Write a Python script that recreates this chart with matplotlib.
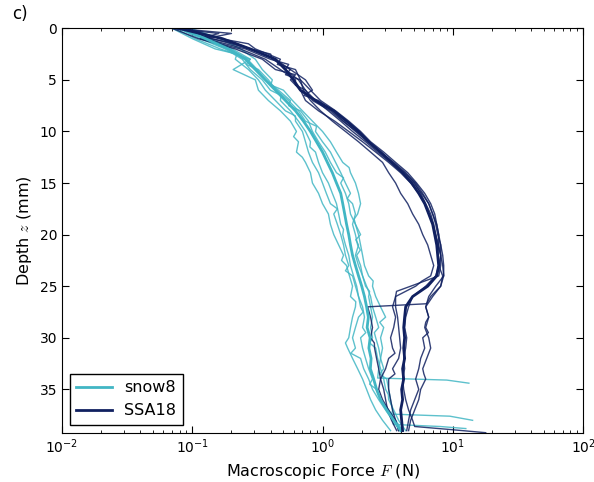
import matplotlib
matplotlib.use("Agg")
import matplotlib.pyplot as plt

# depth grid of the profiles (mm)
DEPTH = list(range(40))

# snow8: individual runs, force in N at each depth of DEPTH
SNOW8_RUNS = [
    [0.074, 0.105, 0.164, 0.279, 0.206, 0.305, 0.322, 0.384, 0.475, 0.567,
     0.631, 0.654, 0.631, 0.740, 0.808, 0.837, 0.932, 1.00, 1.11, 1.15,
     1.22, 1.33, 1.45, 1.53, 1.61, 1.70, 1.64, 1.79, 1.70, 1.64,
     1.59, 1.56, 1.70, 1.86, 2.03, 2.18, 2.34, 2.56, 2.89, 3.33],
    [0.0965, 0.164, 0.234, 0.305, 0.345, 0.412, 0.501, 0.588, 0.701, 0.837,
     1.00, 1.15, 1.28, 1.43, 1.64, 1.79, 1.89, 1.96, 1.86, 1.79,
     1.89, 1.96, 2.03, 2.10, 2.26, 2.42, 2.56, 2.79, 3.05, 2.95,
     2.79, 2.89, 2.79, 2.70],
    [0.088, 0.138, 0.203, 0.279, 0.322, 0.384, 0.443, 0.548, 0.654, 0.740,
     0.883, 1.00, 1.15, 1.26, 1.38, 1.50, 1.64, 1.70, 1.79, 1.70,
     1.79, 1.86, 1.83, 1.96, 2.03, 2.18, 2.34, 2.42, 2.56, 2.70,
     2.56, 2.70, 2.79, 2.95, 3.11, 3.22, 3.33, 3.45],
    [0.078, 0.115, 0.179, 0.242, 0.279, 0.345, 0.398, 0.475, 0.567, 0.654,
     0.740, 0.808, 0.883, 0.932, 1.00, 1.11, 1.19, 1.28, 1.33, 1.38,
     1.43, 1.50, 1.59, 1.64, 1.73, 1.83, 1.89, 1.96, 1.89, 1.79,
     1.70, 1.79, 1.96, 2.07, 2.26, 2.42, 2.70, 3.05, 3.45],
    [0.084, 0.133, 0.196, 0.265, 0.316, 0.364, 0.459, 0.567, 0.677, 0.780,
     0.837, 0.932, 1.05, 1.15, 1.28, 1.38, 1.50, 1.59, 1.64, 1.79,
     1.96, 1.89, 1.79, 1.89, 2.03, 2.14, 2.26, 2.34, 2.42, 2.34,
     2.42, 2.56, 2.65, 2.79, 2.95, 3.05, 3.22, 3.52, 3.84, 4.35],
    [0.070, 0.100, 0.150, 0.214, 0.270, 0.322, 0.364, 0.435, 0.519, 0.620,
     0.701, 0.740, 0.780, 0.837, 0.932, 1.00, 1.07, 1.15, 1.22, 1.30,
     1.38, 1.45, 1.50, 1.59, 1.70, 1.79, 1.89, 2.03, 2.10, 2.03,
     1.96, 2.03, 2.14, 2.26, 2.42, 2.60, 2.79, 3.22, 3.64, 4.12],
]
# extra readings between grid depths (wiggles) and the end of runs
# that hit something hard: run index -> (depths, forces)
SNOW8_EXTRA = {
    0: ([10.5, 12.5, 22.5, 26.5, 30.5], [0.60, 0.70, 1.40, 1.80, 1.50]),
    1: ([5.5, 13.5, 18.5, 24.5, 28.5, 33.9, 34.1, 34.4],
        [0.40, 1.60, 1.75, 2.45, 2.75, 2.65, 9.0, 13.3]),
    2: ([3.5, 9.5, 16.5, 21.5, 29.5, 33.5, 37.4, 37.6, 38.0],
        [0.26, 0.90, 1.55, 1.95, 2.50, 2.75, 3.4, 9.5, 14.2]),
    3: ([6.5, 11.5, 19.5, 27.5, 31.5, 38.4, 38.6, 38.8],
        [0.48, 0.80, 1.45, 2.05, 1.65, 3.5, 8.0, 12.6]),
    4: ([7.5, 14.5, 20.5, 25.5, 30.5, 35.5], [0.55, 1.45, 1.80, 2.30, 2.30, 3.20]),
    5: ([2.5, 8.5, 17.5, 23.5, 29.5, 34.5], [0.22, 0.62, 1.30, 1.50, 2.15, 2.30]),
}
SNOW8_MEAN = [0.081, 0.126, 0.189, 0.256, 0.305, 0.364, 0.435, 0.519, 0.620, 0.714,
              0.808, 0.899, 1.00, 1.09, 1.19, 1.28, 1.38, 1.43, 1.48, 1.53,
              1.59, 1.64, 1.70, 1.79, 1.89, 2.00, 2.10, 2.18, 2.25, 2.20,
              2.32, 2.27, 2.36, 2.33, 2.47, 2.60, 2.79, 3.11, 3.52, 3.98]

# SSA18
SSA18_RUNS = [
    [0.074, 0.126, 0.256, 0.398, 0.519, 0.654, 0.740, 0.837, 1.15, 1.43,
     1.83, 2.26, 2.79, 3.52, 4.35, 5.10, 5.67, 6.20, 6.77, 7.14,
     7.40, 7.80, 8.08, 8.37, 8.52, 8.08, 6.77, 2.22, 2.34, 2.42,
     2.34, 2.51, 2.60, 2.70, 2.79, 2.95, 3.05, 3.16, 3.39, 3.71],
    [0.081, 0.138, 0.279, 0.435, 0.567, 0.677, 0.714, 0.808, 0.965, 1.19,
     1.50, 1.89, 2.34, 2.89, 3.22, 3.64, 3.98, 4.51, 4.92, 5.48,
     5.88, 6.42, 6.77, 7.14, 6.77, 5.19, 3.64, 3.45, 3.64, 3.52,
     3.33, 3.45, 3.22, 3.05, 2.79, 2.70, 2.89, 3.22, 3.64, 3.84],
    [0.068, 0.115, 0.234, 0.364, 0.475, 0.620, 0.740, 0.883, 1.11, 1.38,
     1.70, 2.14, 2.65, 3.33, 4.12, 5.01, 5.77, 6.54, 7.01, 7.40,
     7.66, 8.08, 8.37, 8.52, 8.52, 7.40, 6.54, 6.20, 6.54, 6.09,
     6.54, 6.77, 6.31, 5.88, 6.20, 5.67, 5.48, 5.10, 4.75, 4.58],
    [0.078, 0.142, 0.279, 0.412, 0.567, 0.740, 0.837, 0.932, 1.19, 1.45,
     1.79, 2.22, 2.74, 3.45, 4.27, 5.19, 5.88, 6.54, 7.01, 7.53,
     7.80, 8.08, 8.08, 7.80, 7.40, 6.20, 4.92, 4.58, 4.35, 4.27,
     4.43, 4.35, 4.20, 4.27, 4.12, 4.20, 4.35, 4.58, 4.92],
    [0.088, 0.164, 0.305, 0.475, 0.620, 0.677, 0.808, 0.965, 1.26, 1.59,
     1.96, 2.34, 2.95, 3.64, 4.51, 5.28, 6.09, 6.77, 7.27, 7.53,
     7.80, 7.80, 7.66, 7.80, 8.37, 8.08, 7.01, 6.20, 6.54, 6.20,
     5.88, 6.09, 5.67, 5.48, 5.19, 5.48, 5.10, 4.75, 4.58, 4.43],
    [0.070, 0.111, 0.214, 0.345, 0.435, 0.567, 0.677, 0.740, 0.932, 1.24,
     1.59, 2.03, 2.56, 3.22, 3.98, 4.75, 5.48, 6.09, 6.54, 7.01,
     7.40, 7.66, 8.08, 8.08, 7.80, 4.75, 3.64, 3.64, 3.77, 3.84,
     3.91, 3.98, 3.84, 3.45, 3.22, 3.22, 3.33, 3.45, 3.64, 3.84],
]
SSA18_EXTRA = {
    0: ([0.5, 3.5, 26.7, 30.5], [0.20, 0.55, 6.30, 2.50]),
    1: ([1.5, 4.5, 24.5, 31.5], [0.22, 0.52, 5.80, 3.60]),
    2: ([0.5, 5.5, 28.5, 33.5], [0.16, 0.62, 6.20, 6.00]),
    3: ([2.5, 6.5, 38.6, 38.9, 39.2], [0.40, 0.72, 5.1, 9.7, 17.9]),
    4: ([1.5, 3.5, 29.5], [0.27, 0.45, 6.50]),
    5: ([4.5, 25.5, 33.5], [0.62, 3.70, 3.60]),
}
SSA18_MEAN = [0.078, 0.170, 0.279, 0.435, 0.519, 0.598, 0.677, 0.883, 1.22, 1.53,
              1.89, 2.26, 2.79, 3.39, 4.12, 4.84, 5.48, 6.09, 6.54, 7.01,
              7.27, 7.53, 7.66, 7.80, 7.53, 6.42, 4.92, 4.35, 4.27, 4.20,
              4.27, 4.20, 4.27, 4.12, 4.20, 4.05, 4.12, 3.98, 4.05, 4.12]

CYAN = "#41b6c4"
NAVY = "#102060"

plt.rcParams["font.family"] = "DejaVu Sans"
plt.rcParams["mathtext.fontset"] = "cm"

fig = plt.figure(figsize=(5.94, 4.82), dpi=100)
ax = fig.add_axes([0.1044, 0.1023, 0.8771, 0.839])


def draw_runs(runs, extra, color):
    for i, run in enumerate(runs):
        pts = list(zip(DEPTH[:len(run)], run))
        if i in extra:
            pts += list(zip(extra[i][0], extra[i][1]))
        pts.sort()
        z = [p[0] for p in pts]
        f = [p[1] for p in pts]
        ax.plot(f, z, color=color, lw=1.0, alpha=0.85)


draw_runs(SNOW8_RUNS, SNOW8_EXTRA, CYAN)
draw_runs(SSA18_RUNS, SSA18_EXTRA, NAVY)
l1, = ax.plot(SNOW8_MEAN, DEPTH, color=CYAN, lw=2.0, label="snow8")
l2, = ax.plot(SSA18_MEAN, DEPTH, color=NAVY, lw=2.0, label="SSA18")

ax.set_xscale("log")
ax.set_xlim(1e-2, 1e2)
ax.set_ylim(39.2, 0)
ax.set_yticks([0, 5, 10, 15, 20, 25, 30, 35])
ax.tick_params(which="both", direction="in", top=True, right=True, labelsize=10)
ax.tick_params(which="major", length=5)
ax.tick_params(which="minor", length=2.5)

ax.set_xlabel("Macroscopic Force $F$ (N)", fontsize=11.5)
ax.set_ylabel("Depth $z$ (mm)", fontsize=11.5)

leg = ax.legend(handles=[l1, l2], loc="lower left", fancybox=False,
                edgecolor="black", framealpha=1, fontsize=11.5, handlelength=2.2)
leg.get_frame().set_linewidth(1.0)

fig.text(0.02, 0.99, "c)", fontsize=12, va="top")

fig.savefig("out.png", dpi=100)
